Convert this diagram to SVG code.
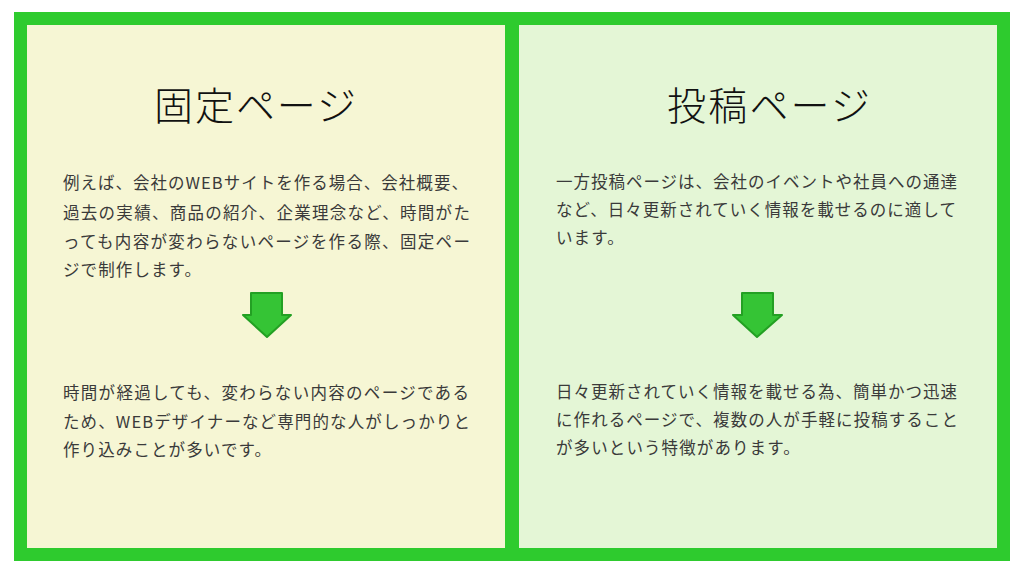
<svg xmlns="http://www.w3.org/2000/svg" width="1024" height="576" viewBox="0 0 1024 576">
<style>
.title{font-family:"Noto Sans CJK JP","Noto Sans",sans-serif;font-size:39px;font-weight:300;fill:#111111;}
.body{font-family:"Noto Sans CJK JP","Noto Sans",sans-serif;font-size:16.5px;fill:#3a3a3a;letter-spacing:1.1px;}
.arrow{fill:#35c435;stroke:#23a023;stroke-width:2;stroke-linejoin:round;}
</style>
<rect x="0" y="0" width="1024" height="576" fill="#ffffff"/>
<rect x="14" y="12" width="996" height="549" fill="#2ecb2e"/>
<g id="fixed-page">
<rect x="27" y="25" width="478" height="523" fill="#f6f6d4"/>
<text class="title" x="154" y="120" textLength="202" lengthAdjust="spacing">固定ページ</text>
<text class="body" x="63" y="189" textLength="406" lengthAdjust="spacing">例えば、会社のWEBサイトを作る場合、会社概要、</text>
<text class="body" x="63" y="219" textLength="408" lengthAdjust="spacing">過去の実績、商品の紹介、企業理念など、時間がた</text>
<text class="body" x="63" y="248" textLength="408" lengthAdjust="spacing">っても内容が変わらないページを作る際、固定ペー</text>
<text class="body" x="63" y="276">ジで制作します。</text>
</g>
<g id="fixed-page-detail">
<text class="body" x="63" y="399" textLength="407" lengthAdjust="spacing">時間が経過しても、変わらない内容のページである</text>
<text class="body" x="63" y="428" textLength="408" lengthAdjust="spacing">ため、WEBデザイナーなど専門的な人がしっかりと</text>
<text class="body" x="63" y="456">作り込みことが多いです。</text>
</g>
<g id="post-page">
<rect x="519" y="25" width="478" height="523" fill="#e4f6d6"/>
<text class="title" x="667" y="120" textLength="203" lengthAdjust="spacing">投稿ページ</text>
<text class="body" x="556" y="188" textLength="402" lengthAdjust="spacing">一方投稿ページは、会社のイベントや社員への通達</text>
<text class="body" x="556" y="216" textLength="401" lengthAdjust="spacing">など、日々更新されていく情報を載せるのに適して</text>
<text class="body" x="556" y="244">います。</text>
</g>
<g id="post-page-detail">
<text class="body" x="556" y="398" textLength="402" lengthAdjust="spacing">日々更新されていく情報を載せる為、簡単かつ迅速</text>
<text class="body" x="556" y="426" textLength="403" lengthAdjust="spacing">に作れるページで、複数の人が手軽に投稿すること</text>
<text class="body" x="556" y="454">が多いという特徴があります。</text>
</g>
<g id="connectors">
<path class="arrow" d="M251,293 H282 V315 H291 L267,337 L243,315 H251 Z"/>
<path class="arrow" d="M742,293 H773 V315 H782 L757,337 L733,315 H742 Z"/>
</g>
</svg>
